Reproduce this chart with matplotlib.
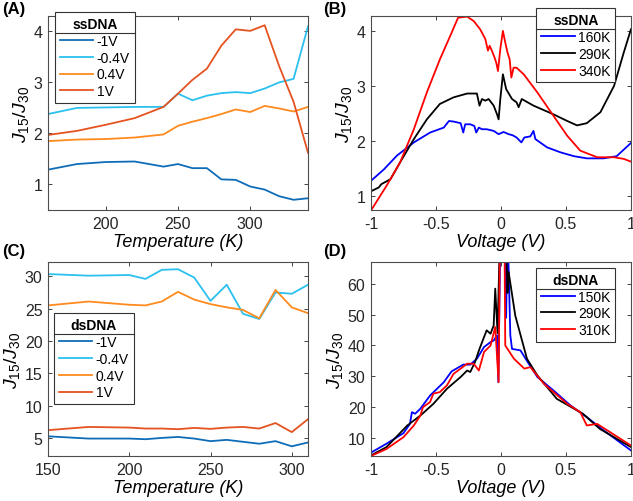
import matplotlib
matplotlib.use("Agg")
import matplotlib.pyplot as plt
from matplotlib.lines import Line2D

plt.rcParams['font.family'] = ['Liberation Sans', 'DejaVu Sans']
plt.rcParams['mathtext.fontset'] = 'custom'
plt.rcParams['mathtext.it'] = 'Liberation Sans:italic'
plt.rcParams['mathtext.rm'] = 'Liberation Sans'

# ---- panel A: ssDNA vs temperature ----
temp_a = [160, 180, 200, 220, 240, 250, 260, 270, 280, 290, 300, 310, 320, 330, 340]
ss_m1 = [1.29, 1.40, 1.44, 1.45, 1.35, 1.40, 1.32, 1.32, 1.10, 1.09, 0.96, 0.90, 0.77, 0.70, 0.73]
ss_m04 = [2.38, 2.50, 2.51, 2.52, 2.52, 2.78, 2.65, 2.74, 2.79, 2.81, 2.79, 2.88, 3.00, 3.07, 4.10]
ss_p04 = [1.85, 1.88, 1.89, 1.92, 1.98, 2.15, 2.23, 2.30, 2.38, 2.47, 2.42, 2.54, 2.49, 2.43, 2.52]
ss_p1 = [1.97, 2.05, 2.17, 2.30, 2.52, 2.78, 3.05, 3.27, 3.72, 4.04, 4.01, 4.12, 3.32, 2.62, 1.62]

# ---- panel C: dsDNA vs temperature ----
temp_c = [150, 175, 200, 210, 220, 230, 240, 250, 260, 270, 280, 290, 300, 310]
ds_m1 = [5.25, 4.9, 4.9, 4.8, 5.0, 5.15, 4.9, 4.5, 4.7, 4.4, 4.1, 4.5, 3.7, 4.3]
ds_m04 = [30.35, 30.1, 30.2, 29.6, 31.0, 31.1, 29.8, 26.2, 28.7, 24.2, 23.4, 27.5, 27.3, 28.7]
ds_p04 = [25.5, 26.1, 25.6, 25.5, 26.1, 27.6, 26.4, 25.7, 25.2, 24.8, 23.5, 27.9, 25.2, 24.3]
ds_p1 = [6.2, 6.7, 6.6, 6.45, 6.45, 6.35, 6.55, 6.4, 6.6, 6.7, 6.45, 7.3, 5.9, 7.9]

# ---- panel B: ssDNA vs voltage ----
v_b160 = [-1.0, -0.9, -0.8, -0.67, -0.545, -0.44, -0.40, -0.365, -0.31, -0.29, -0.275, -0.236,
          -0.205, -0.19, -0.17, -0.146, -0.11, -0.056, -0.018, 0.02, 0.06, 0.09, 0.12, 0.157,
          0.18, 0.226, 0.25, 0.265, 0.355, 0.457, 0.56, 0.66, 0.79, 0.89, 1.0]
j_b160 = [1.27, 1.48, 1.73, 1.97, 2.15, 2.24, 2.36, 2.35, 2.32, 2.15, 2.30, 2.30,
          2.27, 2.15, 2.24, 2.21, 2.21, 2.18, 2.12, 2.16, 2.12, 2.10, 2.06, 1.97,
          2.06, 2.08, 2.18, 2.03, 1.88, 1.79, 1.72, 1.68, 1.68, 1.72, 1.96]
v_b290 = [-1.0, -0.94, -0.92, -0.85, -0.775, -0.67, -0.57, -0.47, -0.365, -0.26, -0.185,
          -0.165, -0.146, -0.12, -0.095, -0.056, -0.03, -0.018, -0.005, 0.015, 0.04, 0.085,
          0.12, 0.136, 0.16, 0.25, 0.405, 0.51, 0.585, 0.66, 0.765, 0.87, 0.945, 1.0]
j_b290 = [1.08, 1.15, 1.21, 1.30, 1.61, 2.03, 2.39, 2.67, 2.79, 2.86, 2.86,
          2.64, 2.76, 2.73, 2.76, 2.64, 2.48, 2.39, 2.76, 3.21, 2.94, 2.76,
          2.70, 2.61, 2.76, 2.64, 2.48, 2.36, 2.28, 2.32, 2.52, 3.00, 3.61, 4.03]
v_b340 = [-1.0, -0.88, -0.775, -0.67, -0.57, -0.47, -0.39, -0.33, -0.26, -0.21, -0.16, -0.12,
          -0.10, -0.087, -0.07, -0.05, -0.036, -0.023, -0.005, 0.015, 0.033, 0.05, 0.067,
          0.08, 0.097, 0.12, 0.175, 0.28, 0.405, 0.51, 0.61, 0.74, 0.87, 0.945, 1.0]
j_b340 = [0.73, 1.18, 1.61, 2.21, 2.88, 3.48, 3.91, 4.24, 4.26, 4.18, 4.03, 3.85,
          3.64, 3.73, 3.64, 3.52, 3.42, 3.27, 3.67, 4.00, 3.79, 3.61, 3.48,
          3.15, 3.33, 3.33, 3.21, 2.88, 2.45, 2.09, 1.82, 1.70, 1.70, 1.67, 1.62]

# ---- panel D: dsDNA vs voltage ----
v_d150 = [-1.0, -0.88, -0.75, -0.70, -0.685, -0.66, -0.62, -0.545, -0.44, -0.38, -0.29, -0.236,
          -0.185, -0.13, -0.08, -0.056, -0.03, -0.02, 0.0, 0.03, 0.04, 0.05, 0.072, 0.085,
          0.15, 0.2, 0.28, 0.405, 0.534, 0.66, 0.79, 1.0]
j_d150 = [5.3, 8.2, 11.6, 14.6, 18.4, 17.9, 19.5, 23.8, 28.1, 31.6, 33.8, 33.8,
          35.7, 39.5, 41.1, 41.6, 43.3, 28.1, 90.0, 90.0, 49.0, 80.0, 43.3, 38.9,
          38.4, 35.0, 29.8, 25.4, 20.6, 16.8, 12.5, 6.0]
v_d290 = [-1.0, -0.88, -0.72, -0.62, -0.52, -0.415, -0.31, -0.26, -0.236, -0.2, -0.165,
          -0.11, -0.08, -0.056, -0.044, -0.026, 0.0, 0.03, 0.05, 0.059, 0.11, 0.2, 0.28,
          0.43, 0.63, 0.76, 1.0]
j_d290 = [4.4, 7.1, 14.1, 17.3, 21.1, 26.0, 29.8, 31.9, 31.4, 34.6, 38.9,
          44.9, 43.8, 46.5, 58.4, 44.0, 90.0, 90.0, 57.0, 63.8, 49.7, 35.7, 30.3,
          22.7, 17.9, 13.0, 7.1]
v_d310 = [-1.0, -0.88, -0.75, -0.67, -0.62, -0.6, -0.545, -0.52, -0.47, -0.415, -0.365, -0.31,
          -0.26, -0.21, -0.17, -0.13, -0.08, -0.044, -0.018, -0.005, 0.025, 0.033, 0.1, 0.18,
          0.226, 0.33, 0.51, 0.61, 0.66, 0.74, 1.0]
j_d310 = [4.2, 6.5, 10.3, 14.1, 17.3, 20.0, 21.7, 24.4, 24.9, 27.1, 30.8, 32.5,
          34.1, 34.1, 31.9, 37.9, 40.0, 46.0, 28.1, 90.0, 90.0, 40.0, 35.7, 32.5,
          33.0, 27.6, 21.1, 18.4, 14.1, 14.6, 7.6]

c_m1 = '#0F6DB8'
c_m04 = '#2BC0EE'
c_p04 = '#FF8A1E'
c_p1 = '#E55320'
frame_col = '#4d4d4d'
tick_col = '#262626'

fig = plt.figure(figsize=(6.33, 5.02), dpi=100)
axA = fig.add_axes([0.0758, 0.5797, 0.4108, 0.3863])
axB = fig.add_axes([0.586, 0.5797, 0.4108, 0.3863])
axC = fig.add_axes([0.0758, 0.0896, 0.4108, 0.3863])
axD = fig.add_axes([0.586, 0.0896, 0.4108, 0.3863])

ylab = r'$J_{\mathit{15}}/J_{\mathit{30}}$'

def style(ax):
    ax.tick_params(direction='in', top=True, right=True, labelsize=11.5,
                   colors=tick_col, length=3, width=0.6, pad=4)
    for s in ax.spines.values():
        s.set_color(frame_col)
        s.set_linewidth(0.8)

def mk_legend(ax, title, loc, anchor):
    leg = ax.legend(loc=loc, bbox_to_anchor=anchor, title=title, fontsize=10,
                    title_fontproperties={'weight': 'bold', 'size': 10},
                    fancybox=False, framealpha=1, edgecolor='#333333',
                    handlelength=2.4, handletextpad=0.25, labelspacing=0.2,
                    borderpad=0.35, borderaxespad=0)
    leg.get_frame().set_linewidth(0.8)
    return leg

# A
axA.plot(temp_a, ss_m1, color=c_m1, lw=1.3, label='-1V')
axA.plot(temp_a, ss_m04, color=c_m04, lw=1.3, label='-0.4V')
axA.plot(temp_a, ss_p04, color=c_p04, lw=1.3, label='0.4V')
axA.plot(temp_a, ss_p1, color=c_p1, lw=1.3, label='1V')
axA.set_xlim(160, 340)
axA.set_ylim(0.5, 4.3)
axA.set_xticks([200, 250, 300])
axA.set_yticks([1, 2, 3, 4])
axA.set_xlabel('Temperature (K)', style='italic', fontsize=13, labelpad=2)
axA.set_ylabel(ylab, fontsize=14, labelpad=2)
style(axA)
legA = mk_legend(axA, 'ssDNA', 'upper left', (0.027, 1.02))

# B
axB.plot(v_b160, j_b160, color='#0000FF', lw=1.3, label='160K')
axB.plot(v_b290, j_b290, color='black', lw=1.3, label='290K')
axB.plot(v_b340, j_b340, color='#FF0000', lw=1.3, label='340K')
axB.set_xlim(-1, 1)
axB.set_ylim(0.74, 4.27)
axB.set_xticks([-1, -0.5, 0, 0.5, 1])
axB.set_xticklabels(['-1', '-0.5', '0', '0.5', '1'])
axB.set_yticks([1, 2, 3, 4])
axB.set_xlabel('Voltage (V)', style='italic', fontsize=13, labelpad=2)
axB.set_ylabel(ylab, fontsize=14, labelpad=2)
style(axB)
legB = mk_legend(axB, 'ssDNA', 'upper right', (0.94, 1.04))

# C
axC.plot(temp_c, ds_m1, color=c_m1, lw=1.3, label='-1V')
axC.plot(temp_c, ds_m04, color=c_m04, lw=1.3, label='-0.4V')
axC.plot(temp_c, ds_p04, color=c_p04, lw=1.3, label='0.4V')
axC.plot(temp_c, ds_p1, color=c_p1, lw=1.3, label='1V')
axC.set_xlim(150, 310)
axC.set_ylim(2.2, 32.2)
axC.set_xticks([150, 200, 250, 300])
axC.set_yticks([5, 10, 15, 20, 25, 30])
axC.set_xlabel('Temperature (K)', style='italic', fontsize=13, labelpad=2)
axC.set_ylabel(ylab, fontsize=14, labelpad=2)
style(axC)
legC = mk_legend(axC, 'dsDNA', 'upper left', (0.023, 0.735))

# D
axD.plot(v_d150, j_d150, color='#0000FF', lw=1.3, label='150K')
axD.plot(v_d290, j_d290, color='black', lw=1.3, label='290K')
axD.plot(v_d310, j_d310, color='#FF0000', lw=1.3, label='310K')
axD.set_xlim(-1, 1)
axD.set_ylim(4.2, 67)
axD.set_xticks([-1, -0.5, 0, 0.5, 1])
axD.set_xticklabels(['-1', '-0.5', '0', '0.5', '1'])
axD.set_yticks([10, 20, 30, 40, 50, 60])
axD.set_xlabel('Voltage (V)', style='italic', fontsize=13, labelpad=2)
axD.set_ylabel(ylab, fontsize=14, labelpad=2)
style(axD)
legD = mk_legend(axD, 'dsDNA', 'upper right', (0.94, 0.97))

# panel letters
for lab, x, y in [('(A)', 0.004, 0.997), ('(B)', 0.51, 0.997),
                  ('(C)', 0.004, 0.514), ('(D)', 0.51, 0.514)]:
    fig.text(x, y, lab, fontsize=12, fontweight='bold', va='top', ha='left')

# line under legend titles (MATLAB-like)
fig.canvas.draw()
r = fig.canvas.get_renderer()
for leg in [legA, legB, legC, legD]:
    fb = leg.get_frame().get_window_extent(r)
    tb = leg.get_title().get_window_extent(r)
    yline = tb.y0 - 2
    x0, y0 = fig.transFigure.inverted().transform((fb.x0, yline))
    x1, _ = fig.transFigure.inverted().transform((fb.x1, yline))
    fig.add_artist(Line2D([x0, x1], [y0, y0], color='#333333', lw=0.8,
                          transform=fig.transFigure, zorder=10))

fig.savefig('out.png', dpi=100)
